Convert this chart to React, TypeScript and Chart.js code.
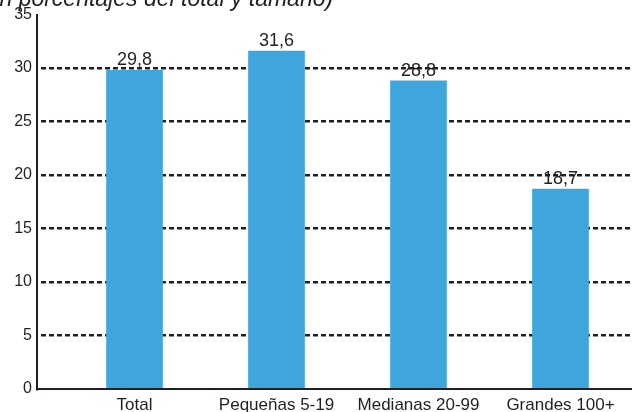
import React, { useEffect, useRef } from "react";
import { Chart, registerables } from "chart.js";

Chart.register(...registerables);

// ---- data ----
const categories = ["Total", "Pequeñas 5-19", "Medianas 20-99", "Grandes 100+"];
const values = [29.8, 31.6, 28.8, 18.7];
const yTickValues = [0, 5, 10, 15, 20, 25, 30, 35];
const titleText = "(en porcentajes del total y tamaño)";

const FONT = "'Liberation Sans', Arial, Helvetica, sans-serif";
const INK = "#231f20";
const BAR = "#3ea6dc";

export default function App() {
  const ref = useRef<HTMLCanvasElement>(null);

  useEffect(() => {
    if (!ref.current) return;

    const titlePlugin = {
      id: "cutTitle",
      afterDraw(chart: any) {
        const ctx = chart.ctx;
        ctx.save();
        ctx.font = `italic 23px ${FONT}`;
        ctx.fillStyle = INK;
        ctx.textAlign = "left";
        ctx.textBaseline = "alphabetic";
        ctx.fillText(titleText, -21, 6);
        ctx.restore();
      },
    };

    const labelPlugin = {
      id: "barLabels",
      afterDatasetsDraw(chart: any) {
        const ctx = chart.ctx;
        const meta = chart.getDatasetMeta(0);
        ctx.save();
        ctx.font = `18px ${FONT}`;
        ctx.fillStyle = INK;
        ctx.textAlign = "center";
        ctx.textBaseline = "alphabetic";
        meta.data.forEach((el: any, i: number) => {
          ctx.fillText(values[i].toFixed(1).replace(".", ","), el.x, el.y - 5);
        });
        ctx.restore();
      },
    };

    const chart = new Chart(ref.current, {
      type: "bar",
      data: {
        datasets: [
          {
            data: values.map((v, i) => ({ x: i, y: v })) as any,
            backgroundColor: BAR,
            borderWidth: 0,
            barThickness: 56,
          },
        ],
      },
      options: {
        responsive: false,
        animation: false,
        devicePixelRatio: 1,
        layout: { padding: { top: 12, right: 0, left: 0, bottom: 0 } },
        plugins: {
          legend: { display: false },
          tooltip: { enabled: false },
        },
        scales: {
          x: {
            type: "linear",
            min: -0.6866,
            max: 3.5035,
            offset: false,
            afterFit(s: any) {
              s.height = 23;
            },
            grid: { display: false, drawTicks: false },
            border: { display: true, color: INK, width: 2 },
            ticks: {
              stepSize: 1,
              includeBounds: false,
              autoSkip: false,
              maxRotation: 0,
              padding: 6,
              color: INK,
              font: { family: FONT, size: 17 },
              callback: (v: any) => categories[v as number] ?? "",
            },
          },
          y: {
            min: 0,
            max: 35,
            afterFit(s: any) {
              s.width = 37;
            },
            afterBuildTicks(s: any) {
              s.ticks = yTickValues.map((v) => ({ value: v }));
            },
            grid: {
              color: (c: any) =>
                c.tick && (c.tick.value === 0 || c.tick.value === 35)
                  ? "rgba(0,0,0,0)"
                  : INK,
              lineWidth: 2.6,
              drawTicks: false,
            },
            border: { display: true, color: INK, width: 2, dash: [5, 3], dashOffset: -3 },
            ticks: {
              padding: 5,
              color: INK,
              font: { family: FONT, size: 16 },
            },
          },
        },
      },
      plugins: [labelPlugin, titlePlugin],
    });

    return () => chart.destroy();
  }, []);

  return (
    <div style={{ position: "fixed", left: 0, top: 0, width: 632, height: 412, background: "#fff" }}>
      <canvas ref={ref} width={632} height={412} style={{ display: "block" }} />
    </div>
  );
}
